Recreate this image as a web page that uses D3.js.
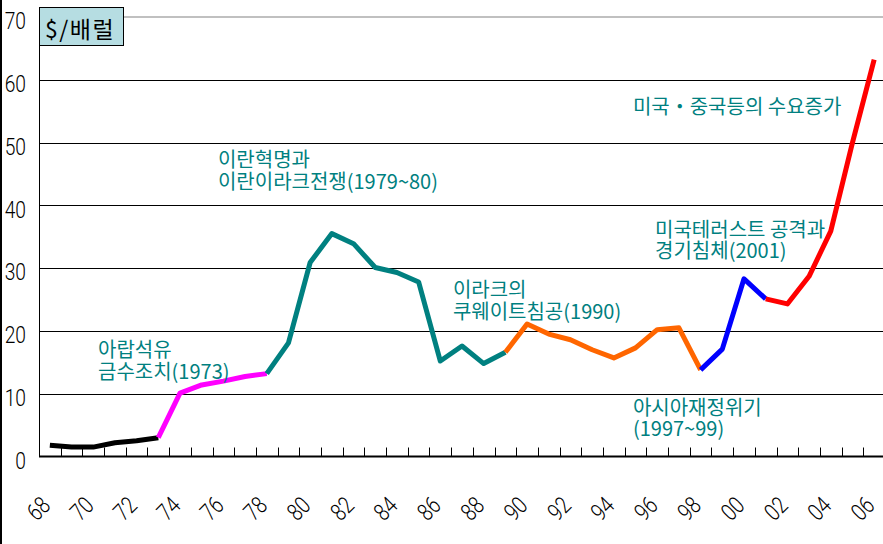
<!DOCTYPE html>
<html>
<head>
<meta charset="utf-8">
<script src="https://cdn.jsdelivr.net/npm/d3@7"></script>
<style>
  html, body { margin: 0; padding: 0; background: #fff; }
  svg { display: block; }
  .num { font-family: Roboto, "Liberation Sans", sans-serif; font-weight: 300; }
  .kr { font-family: "Noto Sans CJK KR", "Noto Sans", sans-serif; }
</style>
</head>
<body>
<script>
// ---- data ----
const years = d3.range(1968, 2007);
const prices = [
  1.8, 1.5, 1.5, 2.2, 2.5, 3.0,            // 68-73
  10.1, 11.4, 12.0, 12.75, 13.2,           // 74-78
  18.1, 30.9, 35.5, 33.9, 30.1, 29.3, 27.8, 15.2, 17.6, 14.8, 16.6, // 79-89
  21.1, 19.5, 18.6, 17.0, 15.7, 17.3, 20.2, 20.5, 13.8,           // 90-98
  17.1, 28.3, 25.1,                        // 99-01
  24.3, 28.7, 35.9, 50.0, 63.2             // 02-06
];
const segStart = [1968, 1973, 1978, 1989, 1998, 2001];
const segEnd   = [1973, 1978, 1989, 1998, 2001, 2006];
const segColors = ["#000000", "#ff00ff", "#008080", "#ff6600", "#0000ff", "#ff0000"];
const yTicks = [0, 10, 20, 30, 40, 50, 60, 70];
const xLabelYears = d3.range(1968, 2007, 2);
const unitLabel = "$/배럴";
const annotationLines = [
  ["아랍석유", "금수조치(1973)"],
  ["이란혁명과", "이란이라크전쟁(1979~80)"],
  ["이라크의", "쿠웨이트침공(1990)"],
  ["아시아재정위기", "(1997~99)"],
  ["미국테러스트 공격과", "경기침체(2001)"],
  ["미국・중국등의 수요증가"]
];
// anchors in data coordinates (year, price) for the first line of each note
const annotationYear  = [1970.22, 1975.75, 1986.58, 1994.88, 1995.9, 1994.88];
const annotationPrice = [16.9, 47.2, 26.5, 7.8, 36.1, 55.7];

// ---- layout ----
const W = 883, H = 544;
const svg = d3.select("body").append("svg").attr("width", W).attr("height", H);

const x = d3.scaleBand().domain(years).range([39, 885]).paddingInner(0).paddingOuter(0);
const cx = yr => x(yr) + x.bandwidth() / 2;
const xc = d3.scaleLinear().domain([1968, 2006]).range([cx(1968), cx(2006)]);
const y = d3.scaleLinear().domain([0, 70]).range([456.5, 17]);

// left border of picture
svg.append("line").attr("x1", 1).attr("x2", 1).attr("y1", 0).attr("y2", H)
  .attr("stroke", "#000").attr("stroke-width", 2);

// gridlines
svg.append("g").selectAll("line").data(yTicks.filter(v => v > 0 && v < 70)).join("line")
  .attr("x1", 39).attr("x2", 885)
  .attr("y1", d => Math.round(y(d)) + 0.5).attr("y2", d => Math.round(y(d)) + 0.5)
  .attr("stroke", "#000").attr("stroke-width", 1);
// top plot border
svg.append("line").attr("x1", 39).attr("x2", 885).attr("y1", y(70)).attr("y2", y(70))
  .attr("stroke", "#c0c0c0").attr("stroke-width", 2);

// y axis
svg.append("line").attr("x1", 39.5).attr("x2", 39.5).attr("y1", y(70)).attr("y2", y(0))
  .attr("stroke", "#000").attr("stroke-width", 1);
svg.append("g").selectAll("text").data(yTicks).join("text")
  .attr("class", "num")
  .attr("transform", d => `translate(26,${y(d) + 4}) scale(0.8,1)`)
  .attr("text-anchor", "end").attr("dominant-baseline", "central")
  .attr("font-size", 24).attr("fill", "#000")
  .text(d => d);

// x axis
svg.append("line").attr("x1", 39).attr("x2", 885).attr("y1", y(0)).attr("y2", y(0))
  .attr("stroke", "#000").attr("stroke-width", 2);
svg.append("g").selectAll("line").data(years).join("line")
  .attr("x1", d => Math.round(x(d) + x.bandwidth()) + 0.5)
  .attr("x2", d => Math.round(x(d) + x.bandwidth()) + 0.5)
  .attr("y1", y(0) - 9).attr("y2", y(0))
  .attr("stroke", "#000").attr("stroke-width", 1);
svg.append("g").selectAll("text").data(xLabelYears).join("text")
  .attr("class", "num")
  .attr("transform", d => `translate(${cx(d) + 2},507) rotate(-45) scale(0.8,1)`)
  .attr("text-anchor", "end")
  .attr("font-size", 24).attr("fill", "#000")
  .text(d => String(d % 100).padStart(2, "0"));

// price line segments
const line = d3.line().x(d => cx(d[0])).y(d => y(d[1])).curve(d3.curveLinear);
const pts = years.map((yr, i) => [yr, prices[i]]);
svg.append("g").selectAll("path").data(segColors).join("path")
  .attr("d", (c, i) => line(pts.filter(p => p[0] >= segStart[i] && p[0] <= segEnd[i])))
  .attr("fill", "none").attr("stroke", c => c)
  .attr("stroke-width", 5).attr("stroke-linejoin", "round").attr("stroke-linecap", "butt");

// annotations (each note is one text element with a tspan per line)
const ag = svg.append("g").attr("class", "kr").attr("font-size", 20).attr("fill", "#008080");
annotationLines.forEach((lines, i) => {
  const t = ag.append("text")
    .attr("x", xc(annotationYear[i]))
    .attr("y", y(annotationPrice[i]) + 7);
  lines.forEach((s, j) => {
    t.append("tspan")
      .attr("x", xc(annotationYear[i]))
      .attr("dy", j === 0 ? 0 : 21.5)
      .text(s);
  });
});

// unit box
svg.append("rect").attr("x", 39.5).attr("y", 7.5).attr("width", 84).attr("height", 38)
  .attr("fill", "#b6dde2").attr("stroke", "#000").attr("stroke-width", 1);
svg.append("text").attr("class", "kr").attr("x", 45).attr("y", 28)
  .attr("dominant-baseline", "central").attr("font-size", 23).attr("fill", "#000")
  .attr("letter-spacing", 1.5)
  .text(unitLabel);
</script>
</body>
</html>
